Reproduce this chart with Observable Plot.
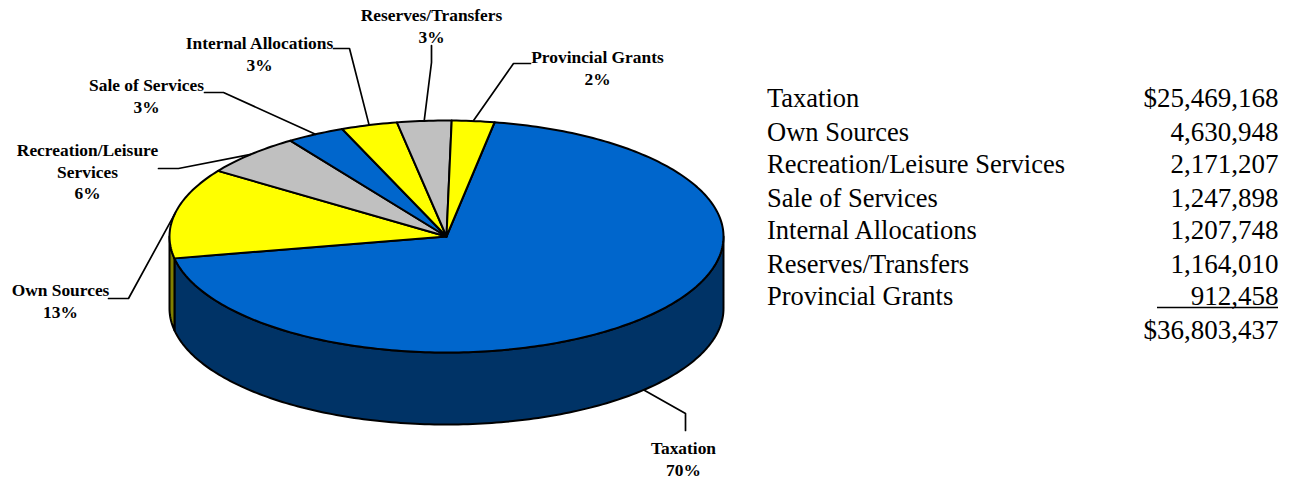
<!DOCTYPE html>
<html>
<head>
<meta charset="utf-8">
<script src="https://cdn.jsdelivr.net/npm/d3@7"></script>
<script src="https://cdn.jsdelivr.net/npm/@observablehq/plot@0.6"></script>
<style>
html,body{margin:0;padding:0;background:#fff;}
svg{display:block;}
</style>
</head>
<body>
<div id="chart"></div>
<script>
// ---- data ----
const categories = ["Taxation","Own Sources","Recreation/Leisure Services","Sale of Services","Internal Allocations","Reserves/Transfers","Provincial Grants"];
const amounts = [25469168,4630948,2171207,1247898,1207748,1164010,912458];
const total = 36803437;
const percentLabels = ["70%","13%","6%","3%","3%","3%","2%"];
const calloutNames = ["Taxation","Own Sources","Recreation/Leisure\nServices","Sale of Services","Internal Allocations","Reserves/Transfers","Provincial Grants"];

// ---- layout and styles ----
const W = 1292, H = 479;
const pie = {cx: 446, cy: 236, rx: 277, ry: 116, depth: 72, startDeg: 10};
const sliceColors = ["#0066CC","#FFFF00","#C0C0C0","#0066CC","#FFFF00","#C0C0C0","#FFFF00"];
const sideColors = ["#003366","#808000"];
const calloutX = [683,60,87,146,259,431,597];
const calloutY = [457.5,299.5,170.5,94.5,52.5,24.5,66.5];
const elbowX = [685,128,178,223,349,431,513];
const elbowY = [413,298,168,92,48,62,63];
const endX   = [685,108,158,204,333,431,530];
const endY   = [430,298,168,92,48,45,63];
const rowY = [98,132,164,198,230,264,296,330];
const serif = "'Liberation Serif','Times New Roman',serif";

// ---- geometry from the values ----
const sum = d3.sum(amounts);
const pt = (deg, drop = 0) => {
  const a = deg * Math.PI / 180;
  return {x: pie.cx + pie.rx * Math.sin(a), y: pie.cy - pie.ry * Math.cos(a) + drop};
};
const arcPts = (a0, a1, drop = 0) => {
  const n = Math.max(2, Math.ceil(Math.abs(a1 - a0)));
  return d3.range(n + 1).map(i => pt(a0 + (a1 - a0) * i / n, drop));
};
let cur = pie.startDeg;
const slices = amounts.map((v, i) => {
  const a0 = cur, a1 = cur + v / sum * 360;
  cur = a1;
  return {i, a0, a1, mid: (a0 + a1) / 2};
});

const topFaces = slices.flatMap(s => {
  const face = "top" + s.i;
  const apex = {x: pie.cx, y: pie.cy};
  return [apex, ...arcPts(s.a0, s.a1), apex].map(p => ({...p, face}));
});
const sideFaces = slices.filter(s => s.a0 < 270).flatMap((s, k) => {
  const face = "side" + k;
  const a0 = Math.max(s.a0, 90), a1 = Math.min(s.a1, 270);
  const top = arcPts(a0, a1), bot = arcPts(a1, a0, pie.depth);
  return [...top, ...bot, top[0]].map(p => ({...p, face}));
});
const faceDomain = [...slices.map(s => "top" + s.i), "side0", "side1"];
const faceRange = [...sliceColors, ...sideColors];

const leaders = slices.flatMap(s => {
  const visibleSide = s.mid > 90 && s.mid < 270;
  const rim = pt(s.mid, visibleSide ? pie.depth : 0);
  return [rim, {x: elbowX[s.i], y: elbowY[s.i]}, {x: endX[s.i], y: endY[s.i]}].map(p => ({...p, id: s.i}));
});
const callouts = calloutNames.map((n, i) => ({text: n + "\n" + percentLabels[i], x: calloutX[i], y: calloutY[i]}));

const fmt = d3.format(",");
const tableLeft = categories.map((c, i) => ({text: c, y: rowY[i]}));
const tableRight = [...amounts.map((v, i) => ({text: (i === 0 ? "$" : "") + fmt(v), y: rowY[i]})),
                    {text: "$" + fmt(total), y: rowY[7]}];

const chart = Plot.plot({
  width: W, height: H,
  margin: 0,
  x: {domain: [0, W], range: [0, W], axis: null},
  y: {domain: [H, 0], range: [H, 0], axis: null},
  color: {domain: faceDomain, range: faceRange},
  style: {background: "#fff", fontFamily: serif, overflow: "visible"},
  marks: [
    Plot.line(sideFaces, {x: "x", y: "y", z: "face", fill: "face", stroke: "#000", strokeWidth: 2, strokeLinejoin: "round"}),
    Plot.line(topFaces, {x: "x", y: "y", z: "face", fill: "face", stroke: "#000", strokeWidth: 2, strokeLinejoin: "round"}),
    Plot.line(leaders, {x: "x", y: "y", z: "id", stroke: "#000", strokeWidth: 1.7}),
    Plot.text(callouts, {x: "x", y: "y", text: "text", fontSize: 17.4, fontWeight: "bold", fill: "#000", lineHeight: 1.24, lineAnchor: "middle", textAnchor: "middle", fontFamily: serif}),
    Plot.text(tableLeft, {x: () => 766.5, y: "y", text: "text", fontSize: 26.5, fill: "#000", textAnchor: "start", lineAnchor: "middle", fontFamily: serif}),
    Plot.text(tableRight, {x: () => 1278, y: "y", text: "text", fontSize: 27, fill: "#000", textAnchor: "end", lineAnchor: "middle", fontFamily: serif}),
    Plot.ruleY([rowY[6] + 11], {x1: 1157, x2: 1278, stroke: "#000", strokeWidth: 1.7})
  ]
});
document.getElementById("chart").append(chart);
</script>
</body>
</html>
